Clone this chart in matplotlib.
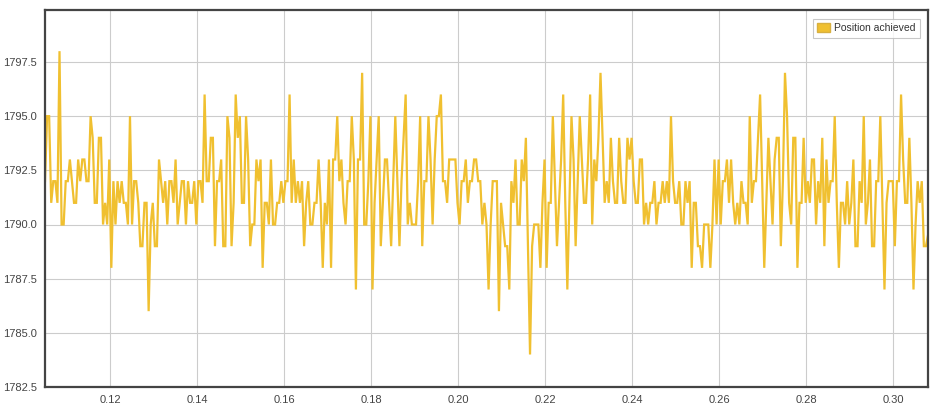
import numpy as np
import matplotlib
matplotlib.use("Agg")
import matplotlib.pyplot as plt
from matplotlib.ticker import FormatStrFormatter
from matplotlib.patches import Patch

seg1 = [1792, 1795, 1795, 1791, 1792, 1792, 1791, 1798, 1790, 1790, 1792, 1792, 1793, 1792,
        1791, 1791, 1793, 1792, 1793, 1793, 1792, 1792, 1795, 1794, 1791, 1791, 1794, 1794,
        1790, 1791, 1790, 1793, 1788, 1792, 1790, 1792]
seg2 = [1791, 1792, 1791, 1791, 1790, 1795, 1790, 1792, 1792, 1791, 1789, 1789,
        1791, 1791, 1786, 1790, 1791, 1789, 1789, 1793, 1792, 1791, 1792, 1790, 1792, 1792,
        1791, 1793, 1790, 1791, 1792, 1792, 1790, 1792, 1791, 1791]
seg3 = [1792, 1790, 1792, 1792, 1791, 1796, 1792, 1792, 1794, 1794, 1789, 1792, 1792, 1793,
        1789, 1789, 1795, 1794, 1789, 1791, 1796, 1794, 1795, 1791, 1791, 1795, 1793, 1789,
        1790, 1790, 1793, 1792, 1793, 1788, 1791, 1791]
seg4 = [1790, 1793, 1790, 1790, 1791, 1791, 1792, 1791, 1792, 1792, 1796, 1791, 1793, 1791,
        1792, 1791, 1792, 1789, 1791, 1792, 1790, 1790, 1791, 1791, 1793, 1791, 1788,
        1791, 1790, 1793, 1788, 1793, 1793, 1795, 1792]
seg5 = [1793, 1791, 1790, 1792, 1792, 1795, 1793, 1787, 1793, 1793, 1797, 1790, 1790, 1792,
        1795, 1787, 1791, 1793, 1795, 1789, 1791, 1793, 1793, 1791, 1789, 1792, 1795, 1792,
        1789, 1792, 1794, 1796, 1790, 1791, 1790]
seg6 = [1790, 1790, 1792, 1795, 1789, 1792, 1792, 1795, 1793, 1790, 1793, 1795, 1795, 1796,
        1792, 1792, 1791, 1793, 1793, 1793, 1793, 1791, 1790, 1792, 1792, 1793, 1791, 1792,
        1792, 1793, 1793, 1792, 1792, 1790, 1791]
seg7 = [1790, 1787, 1790, 1792, 1792, 1792, 1786, 1791, 1790, 1789, 1789, 1787, 1792, 1791, 1793,
        1790, 1790, 1793, 1792, 1794, 1789, 1784, 1789, 1790, 1790, 1790, 1788, 1791, 1793,
        1788, 1791, 1791, 1795, 1792, 1789]
seg8 = [1791, 1793, 1796, 1791, 1787, 1791, 1795, 1793, 1789, 1792, 1795, 1793, 1791, 1791, 1793,
        1796, 1790, 1793, 1792, 1794, 1797, 1794, 1791, 1792, 1791, 1794, 1792, 1791, 1791, 1794,
        1792, 1791, 1791, 1794, 1793]
seg9 = [1794, 1792, 1791, 1791, 1793, 1793, 1790, 1791, 1790, 1791, 1791, 1792, 1790, 1791,
        1791, 1792, 1791, 1792, 1791, 1795, 1792, 1791, 1791, 1792, 1790, 1790, 1792,
        1791, 1792, 1788, 1791, 1791, 1789, 1789, 1788]
seg10 = [1790, 1790, 1790, 1788, 1790, 1793, 1790, 1793, 1790, 1792, 1792, 1793, 1791, 1793,
         1791, 1790, 1791, 1790, 1792, 1791, 1791, 1790, 1795, 1791, 1792, 1792, 1794, 1796, 1792,
         1788, 1791, 1794, 1792, 1790, 1793]
seg11 = [1794, 1794, 1789, 1792, 1797, 1795, 1791, 1790, 1794, 1794, 1788, 1791, 1791, 1794,
         1791, 1792, 1791, 1793, 1793, 1790, 1792, 1791, 1794, 1789, 1793, 1791, 1792,
         1792, 1795, 1791, 1788, 1791, 1791, 1790, 1792]
seg12 = [1790, 1791, 1793, 1789, 1789, 1792, 1791, 1795, 1790, 1791, 1793, 1789, 1789, 1792,
         1792, 1795, 1791, 1787, 1791, 1792, 1792, 1792, 1789, 1792, 1792, 1796, 1793, 1791,
         1791, 1794, 1791, 1787, 1790, 1792, 1791, 1792, 1789, 1789, 1789.5]

position = seg1 + seg2 + seg3 + seg4 + seg5 + seg6 + seg7 + seg8 + seg9 + seg10 + seg11 + seg12
x_start, x_end = 0.105, 0.308
x = np.linspace(x_start, x_end, len(position))

yticks = [1782.5, 1785.0, 1787.5, 1790.0, 1792.5, 1795.0, 1797.5]
xticks = [0.12, 0.14, 0.16, 0.18, 0.20, 0.22, 0.24, 0.26, 0.28, 0.30]

plt.rcParams['font.family'] = ['Liberation Sans Narrow', 'Liberation Sans', 'DejaVu Sans']

fig = plt.figure(figsize=(9.34, 4.13), dpi=100)
ax = fig.add_axes([45/934, 1-387/413, (928-45)/934, (387-10)/413])
line_color = '#f0c030'
ax.plot(x, position, color=line_color, lw=1.6, solid_joinstyle='miter')
ax.set_xlim(x_start, x_end)
ax.set_ylim(1782.5, 1799.9)
ax.set_xticks(xticks)
ax.set_yticks(yticks)
ax.xaxis.set_major_formatter(FormatStrFormatter('%.2f'))
ax.yaxis.set_major_formatter(FormatStrFormatter('%.1f'))
ax.grid(True, color='#cccccc', lw=0.8)
ax.set_axisbelow(True)
ax.tick_params(length=0, labelsize=8, colors='#444444', pad=6)
for s in ax.spines.values():
    s.set_color('#444444')
    s.set_linewidth(1.6)

leg = ax.legend(handles=[Patch(facecolor=line_color, edgecolor='#d8b040', label='Position achieved')],
                loc='upper right', fontsize=7.5, frameon=True, fancybox=False,
                handlelength=1.3, handleheight=1.0, borderpad=0.4, handletextpad=0.4,
                bbox_to_anchor=(0.997, 0.99))
leg.get_frame().set_edgecolor('#bbbbbb')
leg.get_frame().set_linewidth(0.8)
for t in leg.get_texts():
    t.set_color('#333333')

fig.savefig('out.png', dpi=100, facecolor='white')
